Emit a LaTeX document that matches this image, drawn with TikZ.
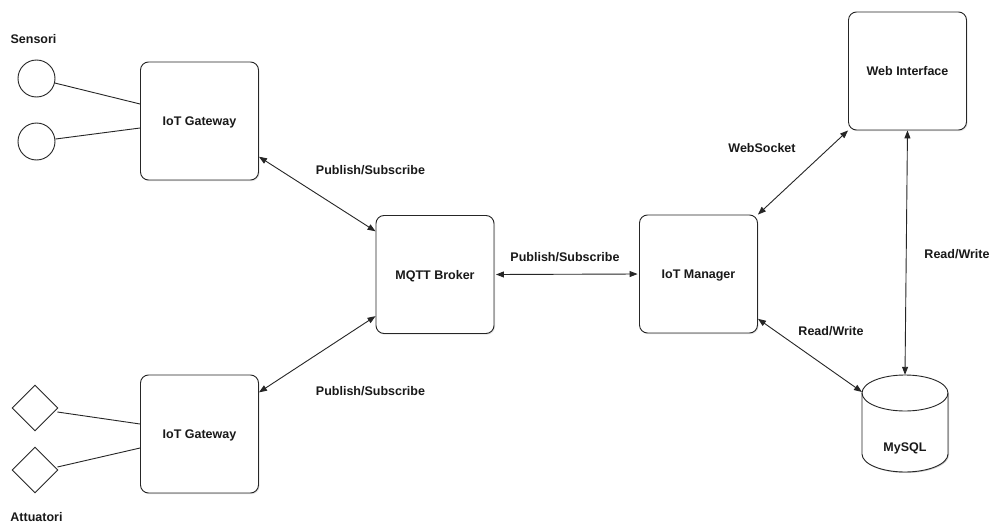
\documentclass[tikz,border=0pt]{standalone}
\usepackage{fontspec}
\setmainfont{Liberation Sans}
\usetikzlibrary{arrows.meta,shadows,calc,shapes.geometric}
\begin{document}
\begin{tikzpicture}[x=1pt,y=-1pt,
  every node/.style={font=\bfseries\fontsize{12.5}{14}\selectfont, text=black!90},
  block/.style={draw=black!85, line width=0.9pt, rounded corners=8pt, fill=white,
    minimum width=118pt, minimum height=118pt, inner sep=0pt, text height=9pt, text depth=0pt,
    drop shadow={opacity=0.22, shadow xshift=1pt, shadow yshift=-1.2pt}},
  sensor/.style={draw=black!85, line width=0.9pt, circle, minimum size=37pt, inner sep=0pt},
  actuator/.style={draw=black!85, line width=0.9pt, diamond, aspect=1, minimum width=46pt, minimum height=46pt, inner sep=0pt},
  wire/.style={draw=black!85, line width=0.9pt},
  link/.style={draw=black!85, line width=0.9pt, {Triangle[length=8pt,width=6pt]}-{Triangle[length=8pt,width=6pt]}},
  lbl/.style={inner sep=0pt, text height=9pt, text depth=0pt}
]
\useasboundingbox (0,0) rectangle (994,525);
\fill[white] (0,0) rectangle (994,525);

% sensors and actuators
\node[lbl] (sens) at (33.5,39) {Sensori};
\node[lbl] (att) at (36.5,517) {Attuatori};
\node[sensor] (s1) at (36.5,78.5) {};
\node[sensor] (s2) at (36.5,141.5) {};
\node[actuator] (a1) at (35,408) {};
\node[actuator] (a2) at (35,470) {};

% main blocks
\node[block] (gw1) at (199.5,121) {IoT Gateway};
\node[block] (gw2) at (199.5,434) {IoT Gateway};
\node[block] (mqtt) at (435,274.5) {MQTT Broker};
\node[block] (mgr) at (698.5,274) {IoT Manager};
\node[block] (web) at (907.5,71) {Web Interface};

% database cylinder (radii given in pt so they are not flipped by the y axis)
\node[inner sep=0pt, minimum width=86pt, minimum height=97pt] (db) at (905,423.5) {};
\fill[black, opacity=0.2] (863,394) -- (863,455)
  arc[start angle=180, end angle=360, x radius=43pt, y radius=18pt] -- (949,394) -- cycle;
\filldraw[draw=black!85, fill=white, line width=0.9pt]
  (862,393) -- (862,454) arc[start angle=180, end angle=360, x radius=43pt, y radius=18pt]
  -- (948,393) arc[start angle=0, end angle=180, x radius=43pt, y radius=18pt] -- cycle;
\draw[black!85, line width=0.9pt] (862,393) arc[start angle=180, end angle=360, x radius=43pt, y radius=18pt];
\node[lbl] (dbname) at (905,447) {MySQL};
\coordinate (dbleft) at (862,392);

% field wiring
\draw[wire] (s1) -- (gw1.west |- 0,104);
\draw[wire] (s2) -- (gw1.west |- 0,128);
\draw[wire] (a1.east) ++(-1,4) -- (gw2.west |- 0,424);
\draw[wire] (a2.east) ++(-1,-3) -- (gw2.west |- 0,448);

% communication links
\draw[link] (gw1.-31) -- (mqtt.144);
\draw[link] (gw2.35) -- (mqtt.215);
\draw[link, shorten <=1.5pt, shorten >=1.5pt] (mqtt.east) -- (mgr.west);
\draw[link] (mgr.45) -- (web.225);
\draw[link] (mgr.-37) -- (dbleft);
\draw[link] (web.south) -- (db.north);

% link labels
\node[lbl] (l1) at (370.5,170) {Publish/Subscribe};
\node[lbl] (l2) at (370.5,391) {Publish/Subscribe};
\node[lbl] (l3) at (565,257) {Publish/Subscribe};
\node[lbl] (l4) at (762,148) {WebSocket};
\node[lbl] (l5) at (957,254) {Read/Write};
\node[lbl] (l6) at (831,331) {Read/Write};
\end{tikzpicture}
\end{document}
